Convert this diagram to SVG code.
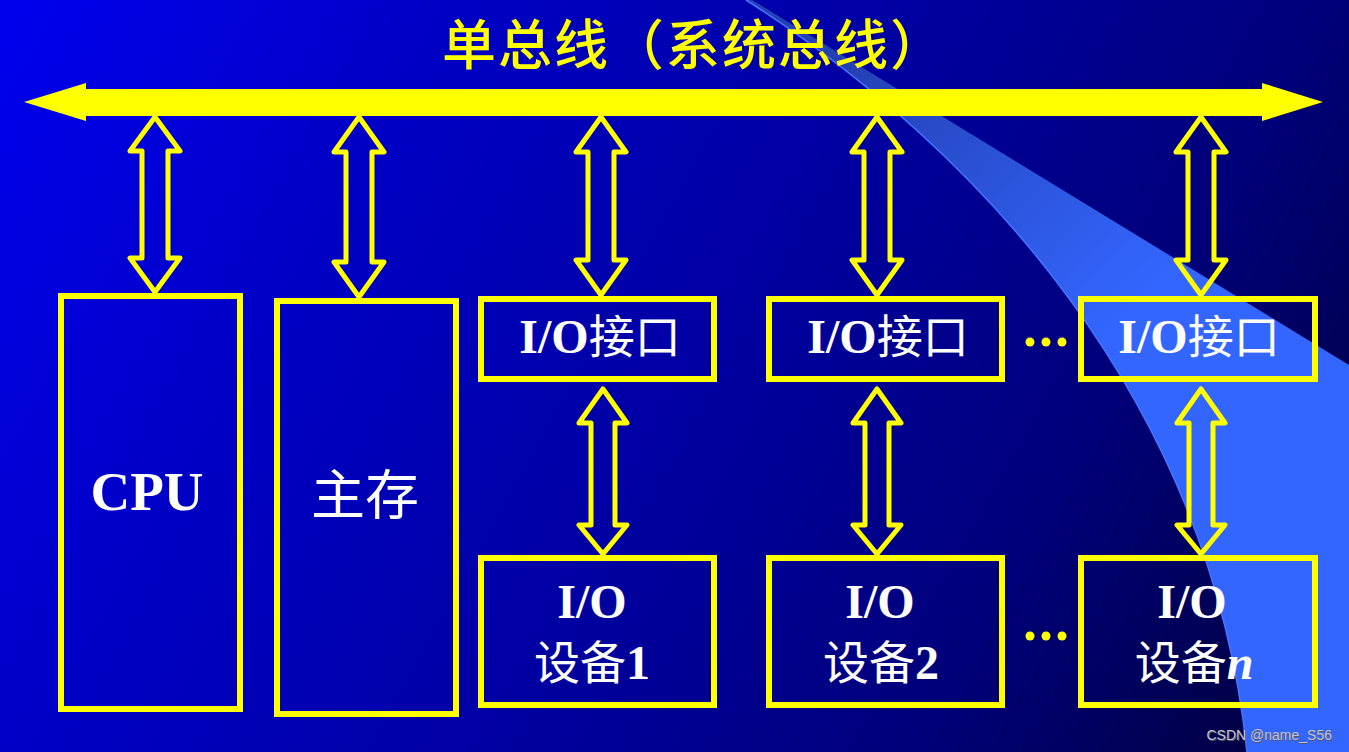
<svg xmlns="http://www.w3.org/2000/svg" width="1349" height="752" viewBox="0 0 1349 752">
<defs>
<linearGradient id="bg" gradientUnits="userSpaceOnUse" x1="0" y1="0" x2="1349" y2="752">
<stop offset="0" stop-color="#0000ee"/>
<stop offset="0.25" stop-color="#0000c6"/>
<stop offset="0.5" stop-color="#0000a4"/>
<stop offset="0.75" stop-color="#00007a"/>
<stop offset="1" stop-color="#000036"/>
</linearGradient>
<linearGradient id="wedge" gradientUnits="userSpaceOnUse" x1="850" y1="60" x2="1250" y2="480">
<stop offset="0" stop-color="#2440b4"/>
<stop offset="0.65" stop-color="#3366ff"/>
<stop offset="1" stop-color="#3366ff"/>
</linearGradient>
<style>
.box{fill:none;stroke:#ffff00;stroke-width:6}
.dbl{fill:none;stroke:#ffff00;stroke-width:5;stroke-linejoin:round}
.lat{font-family:"Liberation Serif","Times New Roman",serif;font-weight:bold;fill:#ffffff}
.cjk{font-family:"Noto Sans CJK SC",sans-serif;font-weight:normal;fill:#ffffff}
.dot{fill:#ffff00}
</style>
</defs>
<rect x="0" y="0" width="1349" height="752" fill="url(#bg)"/>
<path d="M746,0 C980,150 1210,400 1247,752 L1349,752 L1349,365 L752,0 Z" fill="url(#wedge)"/>
<path d="M746,0 C980,150 1210,400 1247,752" fill="none" stroke="#4674ff" stroke-width="1.5"/>

<text x="442" y="65" font-family="Noto Sans CJK SC, sans-serif" font-weight="500" font-size="54" letter-spacing="2" fill="#ffff00">单总线（系统总线）</text>

<g id="connectors">
<polygon id="bus" fill="#ffff00" points="24,102 86,83 86,89 1262,89 1262,83 1323,102 1262,121 1262,116 86,116 86,121"/>
<path class="dbl" d="M155,117 L180,151 L168,151 L168,258 L180,258 L155,292 L130,258 L142,258 L142,151 L130,151 Z"/>
<path class="dbl" d="M359,117 L384,152 L372,152 L372,262 L384,262 L359,297 L334,262 L346,262 L346,152 L334,152 Z"/>
<path class="dbl" d="M601,117 L626,152 L614,152 L614,260 L626,260 L601,295 L576,260 L588,260 L588,152 L576,152 Z"/>
<path class="dbl" d="M877,117 L902,152 L890,152 L890,260 L902,260 L877,295 L852,260 L864,260 L864,152 L852,152 Z"/>
<path class="dbl" d="M1201,117 L1226,152 L1214,152 L1214,260 L1226,260 L1201,295 L1176,260 L1188,260 L1188,152 L1176,152 Z"/>
<path class="dbl" d="M603,389 L627,423 L615,423 L615,525 L627,525 L603,554 L579,525 L591,525 L591,423 L579,423 Z"/>
<path class="dbl" d="M877,389 L901,423 L889,423 L889,525 L901,525 L877,554 L853,525 L865,525 L865,423 L853,423 Z"/>
<path class="dbl" d="M1201,389 L1225,423 L1213,423 L1213,525 L1225,525 L1201,554 L1177,525 L1189,525 L1189,423 L1177,423 Z"/>
</g>

<g id="cpu">
<rect class="box" x="61" y="296" width="179" height="413"/>
<text class="lat" x="147" y="510" font-size="55" text-anchor="middle">CPU</text>
</g>
<g id="memory">
<rect class="box" x="277" y="301" width="179" height="413"/>
<text class="cjk" x="365" y="515" font-size="54" text-anchor="middle">主存</text>
</g>

<g id="io-interface-1">
<rect class="box" x="481" y="299" width="233" height="80"/>
<text x="600" y="353" text-anchor="middle"><tspan class="lat" font-size="48">I/O</tspan><tspan class="cjk" font-size="46">接口</tspan></text>
</g>
<g id="io-interface-2">
<rect class="box" x="769" y="299" width="233" height="80"/>
<text x="888" y="353" text-anchor="middle"><tspan class="lat" font-size="48">I/O</tspan><tspan class="cjk" font-size="46">接口</tspan></text>
</g>
<g id="io-interface-n">
<rect class="box" x="1081" y="299" width="234" height="80"/>
<text x="1199" y="353" text-anchor="middle"><tspan class="lat" font-size="48">I/O</tspan><tspan class="cjk" font-size="46">接口</tspan></text>
</g>

<g id="io-device-1">
<rect class="box" x="481" y="558" width="233" height="147"/>
<text class="lat" x="592" y="618" font-size="48" text-anchor="middle">I/O</text>
<text x="592" y="679" text-anchor="middle"><tspan class="cjk" font-size="46">设备</tspan><tspan class="lat" font-size="48">1</tspan></text>
</g>
<g id="io-device-2">
<rect class="box" x="769" y="558" width="233" height="147"/>
<text class="lat" x="880" y="618" font-size="48" text-anchor="middle">I/O</text>
<text x="881" y="679" text-anchor="middle"><tspan class="cjk" font-size="46">设备</tspan><tspan class="lat" font-size="48">2</tspan></text>
</g>
<g id="io-device-n">
<rect class="box" x="1081" y="558" width="234" height="147"/>
<text class="lat" x="1192" y="618" font-size="48" text-anchor="middle">I/O</text>
<text x="1194" y="679" text-anchor="middle"><tspan class="cjk" font-size="46">设备</tspan><tspan class="lat" font-size="48" font-style="italic">n</tspan></text>
</g>

<g id="ellipsis-top">
<circle class="dot" cx="1030" cy="342" r="4.5"/>
<circle class="dot" cx="1046" cy="342" r="4.5"/>
<circle class="dot" cx="1062" cy="342" r="4.5"/>
</g>
<g id="ellipsis-bottom">
<circle class="dot" cx="1030" cy="636" r="4.5"/>
<circle class="dot" cx="1046" cy="636" r="4.5"/>
<circle class="dot" cx="1062" cy="636" r="4.5"/>
</g>

<text x="1333" y="741" text-anchor="end" font-family="Liberation Sans, Arial, sans-serif" font-size="14" fill="#555566">CSDN @name_S56</text>
<text x="1332" y="740" text-anchor="end" font-family="Liberation Sans, Arial, sans-serif" font-size="14" fill="#c4c4d0">CSDN @name_S56</text>
</svg>
